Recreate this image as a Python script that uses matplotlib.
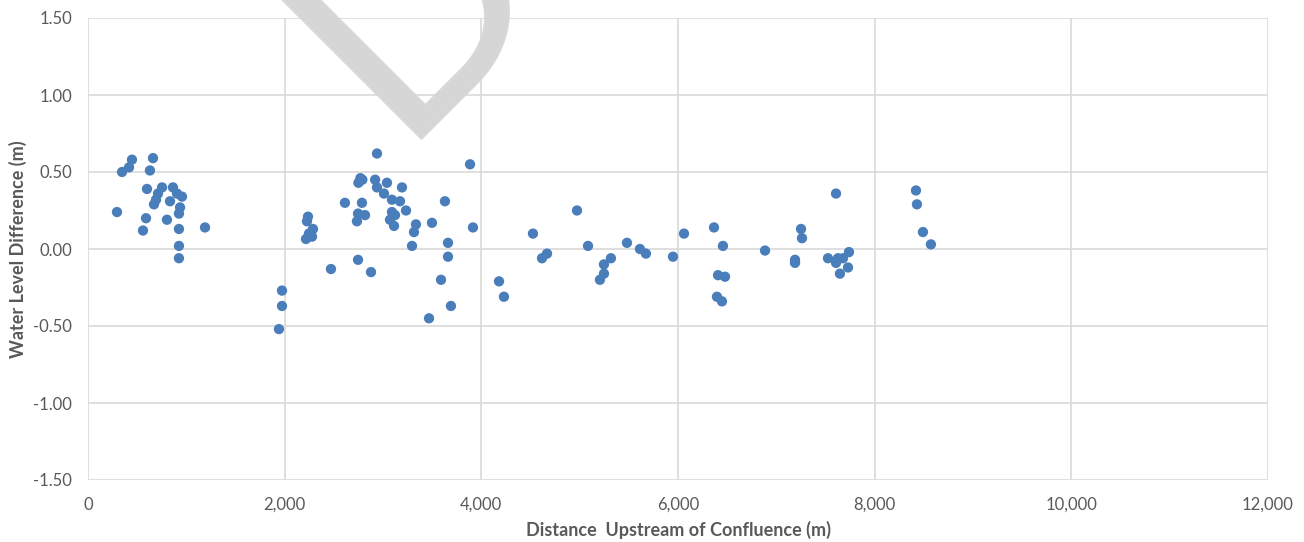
import matplotlib

matplotlib.use("Agg")
import matplotlib.pyplot as plt
from matplotlib.ticker import FuncFormatter

# distance upstream of confluence (m) and water level difference (m)
dist_m = [
    295, 346, 417, 447, 661, 630, 600, 753, 712, 692, 671, 864, 905, 956, 834, 936,
    925, 590, 559, 803, 925, 1190, 925, 925,
    1942, 1973, 1973,
    2237, 2227, 2288, 2247, 2278, 2217,
    2939, 3885, 2750, 2790, 2770, 2920, 3040, 3193, 2939, 3010, 3091, 3173, 2613,
    2786, 3630, 2746, 2817, 2735, 3091, 3122, 3071, 3112, 3234, 3335, 3315, 3498,
    3915, 3295, 3661, 3661, 2471, 2746, 2878, 3590, 3691, 3468,
    4180, 4230, 4525, 4617, 4668, 4973, 5085, 5318, 5247, 5247, 5206, 5481, 5613,
    5674, 5949, 6061, 6366, 6457, 6407, 6478, 6396, 6447, 6885,
    7190, 7190, 7251, 7261, 7607, 7525, 7607, 7627, 7678, 7739, 7729, 7647,
    8420, 8430, 8491, 8572,
]
level_diff_m = [
    0.24, 0.50, 0.53, 0.58, 0.59, 0.51, 0.39, 0.40, 0.36, 0.32, 0.29, 0.40, 0.36, 0.34, 0.31, 0.27,
    0.23, 0.20, 0.12, 0.19, 0.13, 0.14, 0.02, -0.06,
    -0.52, -0.37, -0.27,
    0.21, 0.18, 0.13, 0.10, 0.08, 0.065,
    0.62, 0.55, 0.43, 0.45, 0.46, 0.45, 0.43, 0.40, 0.40, 0.36, 0.32, 0.31, 0.30,
    0.30, 0.31, 0.23, 0.22, 0.18, 0.24, 0.22, 0.19, 0.15, 0.25, 0.16, 0.11, 0.17,
    0.14, 0.02, 0.04, -0.05, -0.13, -0.07, -0.15, -0.20, -0.37, -0.45,
    -0.21, -0.31, 0.10, -0.06, -0.03, 0.25, 0.02, -0.06, -0.10, -0.16, -0.20, 0.04, 0.00,
    -0.03, -0.05, 0.10, 0.14, 0.02, -0.17, -0.18, -0.31, -0.34, -0.01,
    -0.07, -0.09, 0.13, 0.07, 0.36, -0.06, -0.09, -0.06, -0.06, -0.02, -0.12, -0.16,
    0.38, 0.29, 0.11, 0.03,
]

x_ticks = [0, 2000, 4000, 6000, 8000, 10000, 12000]
y_ticks = [-1.5, -1.0, -0.5, 0.0, 0.5, 1.0, 1.5]

plt.rcParams["font.family"] = ["Lato", "DejaVu Sans"]
grey = "#595959"
grid_c = "#d9d9d9"

fig = plt.figure(figsize=(13.04, 5.42), dpi=100)
W, H = 1304, 542
ax = fig.add_axes([88 / W, (H - 480) / H, 1180 / W, 462 / H])

ax.scatter(dist_m, level_diff_m, s=55, color="#4a7ebb", edgecolors="none", zorder=3)

ax.set_xlim(x_ticks[0], x_ticks[-1])
ax.set_ylim(y_ticks[0], y_ticks[-1])
ax.set_xticks(x_ticks)
ax.set_yticks(y_ticks)
ax.xaxis.set_major_formatter(FuncFormatter(lambda v, _: f"{v:,.0f}"))
ax.yaxis.set_major_formatter(FuncFormatter(lambda v, _: f"{v:.2f}"))
ax.grid(True, color=grid_c, lw=1.2, zorder=0)
ax.set_axisbelow(True)
for s in ax.spines.values():
    s.set_visible(False)
ax.tick_params(length=0, labelsize=12, labelcolor=grey)
ax.tick_params(axis="x", pad=12)
ax.tick_params(axis="y", pad=11.5)

ax.set_xlabel("Distance  Upstream of Confluence (m)", fontsize=13, fontweight="bold",
              color=grey, va="center")
ax.set_ylabel("Water Level Difference (m)", fontsize=13, fontweight="bold",
              color=grey, va="center")
ax.xaxis.set_label_coords(0.5, (480 - 530) / 462)
ax.yaxis.set_label_coords((18 - 88) / 1180, 0.5)

# faint "DRAFT" watermark running off the top of the figure
fig.text(395 / W, 1 - 140 / H, "DRAFT", rotation=45, rotation_mode="anchor",
         ha="left", va="baseline", fontsize=212, color="#d6d6d6", zorder=1)

fig.savefig("out.png", dpi=100)
